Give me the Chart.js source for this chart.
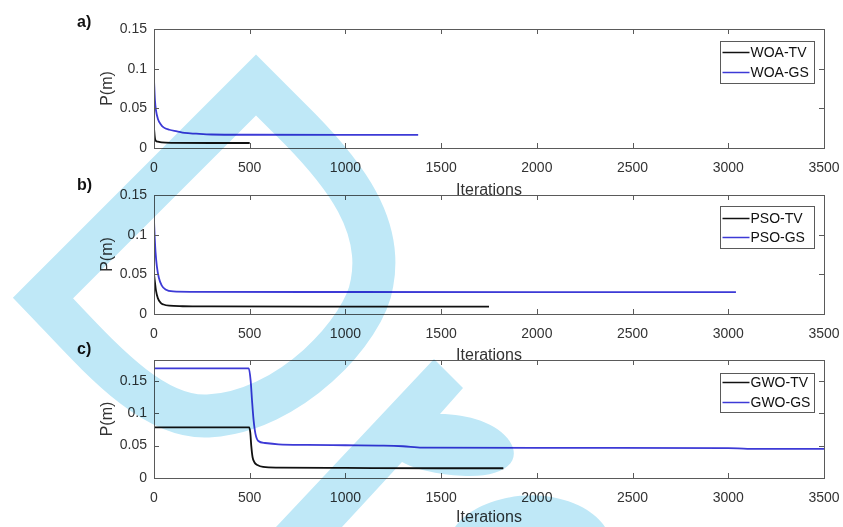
<!DOCTYPE html>
<html>
<head>
<meta charset="utf-8">
<script src="https://cdn.jsdelivr.net/npm/chart.js@4.4.1/dist/chart.umd.min.js"></script>
<style>
  body { margin: 0; background: #fff; }
  #wrap { position: relative; width: 843px; height: 527px; overflow: hidden; background: #fff; }
  #wrap canvas { position: absolute; left: 0; }
  .tag { position: absolute; left: 77px; font: bold 16px "Liberation Sans", Arial, sans-serif; line-height: 16px; color: #111; }
  #mark { position: absolute; left: 0; top: 0; mix-blend-mode: multiply; pointer-events: none; }
</style>
</head>
<body>
<div id="wrap">
  <canvas id="panelA" width="843" height="200" style="top:0px"></canvas>
  <canvas id="panelB" width="843" height="199" style="top:166px"></canvas>
  <canvas id="panelC" width="843" height="196" style="top:331px"></canvas>
  <div class="tag" style="top:14px">a)</div>
  <div class="tag" style="top:177px">b)</div>
  <div class="tag" style="top:341px">c)</div>
  <!-- watermark over the figure -->
  <svg id="mark" width="843" height="527">
    <path d="M 43 298 L 256 85 L 300 129 C 345 175, 383 225, 372 283 C 365 330, 290 412, 208 416 C 150 419, 95 352, 43 298 Z"
          fill="none" stroke="#bfe8f7" stroke-width="43" stroke-linejoin="miter"/>
    <path d="M 434 359 L 463 388 L 440 414 C 470 414, 505 425, 513 448 C 518 465, 500 476, 470 476 C 450 476, 420 472, 402 462 L 342 527 L 276 527 Z" fill="#bfe8f7"/>
    <path d="M 455 527 C 470 505, 510 492, 545 496 C 575 500, 595 512, 605 527 Z" fill="#bfe8f7"/>
  </svg>
</div>
<script>
// x ticks shared by the three panels
const iterTicks = [0, 500, 1000, 1500, 2000, 2500, 3000, 3500];
const pTicks = [0, 0.05, 0.1, 0.15];

// a) WOA
const woaTvIter = [0, 5, 10, 20, 40, 100, 300, 500];
const woaTvP    = [0.025, 0.012, 0.009, 0.008, 0.007, 0.0065, 0.0063, 0.0063];
const woaGsIter = [0, 5, 10, 20, 35, 50, 80, 120, 160, 220, 300, 500, 1000, 1380];
const woaGsP    = [0.086, 0.06, 0.048, 0.037, 0.03, 0.026, 0.023, 0.021, 0.019, 0.018, 0.017, 0.0167, 0.0165, 0.0165];

// b) PSO
const psoTvIter = [0, 5, 10, 20, 35, 50, 80, 150, 300, 1000, 1750];
const psoTvP    = [0.05, 0.04, 0.03, 0.02, 0.014, 0.012, 0.0105, 0.0098, 0.0095, 0.0093, 0.0092];
const psoGsIter = [0, 4, 8, 15, 25, 40, 60, 100, 200, 1000, 2000, 3040];
const psoGsP    = [0.118, 0.095, 0.078, 0.06, 0.046, 0.036, 0.031, 0.0285, 0.028, 0.0277, 0.0275, 0.0275];

// c) GWO
const gwoTvIter = [0, 497, 503, 508, 515, 525, 540, 570, 650, 1000, 1500, 1825];
const gwoTvP    = [0.078, 0.078, 0.07, 0.05, 0.032, 0.024, 0.02, 0.017, 0.016, 0.0155, 0.015, 0.015];
const gwoGsIter = [0, 495, 505, 512, 520, 530, 545, 580, 650, 800, 1000, 1200, 1300, 1400, 2000, 3000, 3100, 3500];
const gwoGsP    = [0.169, 0.169, 0.15, 0.12, 0.09, 0.068, 0.057, 0.054, 0.052, 0.051, 0.0505, 0.05, 0.049, 0.047, 0.0465, 0.0462, 0.045, 0.0448];

const BLACK = '#111111';
const BLUE = '#3d3ad6';
const AXIS = '#5a5a5a';
const TXT = '#333333';
const TICK = 5;

Chart.defaults.font.family = '"Liberation Sans", Arial, sans-serif';

// box around the plot, ticks pointing inward on all four sides
const frame = {
  id: 'frame',
  afterDraw(chart) {
    const { ctx, chartArea: a, scales: { x, y } } = chart;
    ctx.save();
    ctx.strokeStyle = AXIS;
    ctx.lineWidth = 1;
    ctx.strokeRect(Math.round(a.left) + 0.5, Math.round(a.top) + 0.5, Math.round(a.width), Math.round(a.height));
    ctx.beginPath();
    x.ticks.forEach(t => {
      const px = Math.round(x.getPixelForValue(t.value)) + 0.5;
      ctx.moveTo(px, a.bottom); ctx.lineTo(px, a.bottom - TICK);
      ctx.moveTo(px, a.top); ctx.lineTo(px, a.top + TICK);
    });
    y.ticks.forEach(t => {
      const py = Math.round(y.getPixelForValue(t.value)) + 0.5;
      ctx.moveTo(a.left, py); ctx.lineTo(a.left + TICK, py);
      ctx.moveTo(a.right, py); ctx.lineTo(a.right - TICK, py);
    });
    ctx.stroke();
    ctx.restore();
  }
};

// legend box in the upper right of the plot
const boxLegend = {
  id: 'boxLegend',
  afterDraw(chart, args, opts) {
    const { ctx, chartArea: a } = chart;
    const w = 94, h = opts.h;
    const left = Math.round(a.right - 10 - w) + 0.5;
    const top = Math.round(a.top + opts.dy) + 0.5;
    ctx.save();
    ctx.fillStyle = '#fff';
    ctx.fillRect(left, top, w, h);
    ctx.strokeStyle = AXIS;
    ctx.lineWidth = 1;
    ctx.strokeRect(left, top, w, h);
    ctx.font = '14px "Liberation Sans", Arial, sans-serif';
    ctx.textBaseline = 'middle';
    chart.data.datasets.forEach((ds, i) => {
      const cy = top + opts.rows[i];
      ctx.strokeStyle = ds.borderColor;
      ctx.lineWidth = 1.5;
      ctx.beginPath();
      ctx.moveTo(left + 2, cy); ctx.lineTo(left + 29, cy);
      ctx.stroke();
      ctx.fillStyle = '#111';
      ctx.fillText(ds.label, left + 30, cy + 1);
    });
    ctx.restore();
  }
};

function series(label, iter, p, color) {
  return {
    label,
    data: iter.map((x, i) => ({ x, y: p[i] })),
    borderColor: color,
    borderWidth: 1.8,
    pointRadius: 0,
    cubicInterpolationMode: 'monotone',
    fill: false
  };
}

function makePanel(id, cfg) {
  new Chart(document.getElementById(id), {
    type: 'line',
    data: { datasets: cfg.datasets },
    options: {
      responsive: false,
      animation: false,
      devicePixelRatio: 1,
      layout: { padding: { left: 96, right: 19, top: 29, bottom: 0 } },
      plugins: {
        legend: { display: false },
        tooltip: { enabled: false },
        boxLegend: cfg.legend
      },
      scales: {
        x: {
          type: 'linear', min: 0, max: 3500,
          afterBuildTicks: s => { s.ticks = iterTicks.map(v => ({ value: v })); },
          afterFit: s => {
            s.height = cfg.height - cfg.plotBottom;
            s.paddingLeft = 0; s.paddingRight = 0;
          },
          grid: { display: false, drawTicks: false },
          border: { display: false },
          ticks: { padding: 12, color: TXT, autoSkip: false, maxRotation: 0, font: { size: 14 }, callback: v => String(v) },
          title: { display: true, text: 'Iterations', color: TXT, font: { size: 16 }, padding: { top: 0, bottom: 0 } }
        },
        y: {
          type: 'linear', min: 0, max: cfg.yMax,
          afterBuildTicks: s => { s.ticks = pTicks.map(v => ({ value: v })); },
          afterFit: s => {
            s.width = 58;
            s.paddingTop = 0; s.paddingBottom = 0;
          },
          grid: { display: false, drawTicks: false },
          border: { display: false },
          ticks: { padding: 7, color: TXT, font: { size: 14 }, callback: v => String(v) },
          title: { display: true, text: 'P(m)', color: TXT, font: { size: 16 }, padding: { top: 2, bottom: 0 } }
        }
      }
    },
    plugins: [frame, boxLegend]
  });
}

makePanel('panelA', {
  height: 200, plotBottom: 148, yMax: 0.15,
  legend: { dy: 12, h: 42, rows: [11, 31] },
  datasets: [series('WOA-TV', woaTvIter, woaTvP, BLACK), series('WOA-GS', woaGsIter, woaGsP, BLUE)]
});
makePanel('panelB', {
  height: 199, plotBottom: 148, yMax: 0.15,
  legend: { dy: 11, h: 42, rows: [12, 31] },
  datasets: [series('PSO-TV', psoTvIter, psoTvP, BLACK), series('PSO-GS', psoGsIter, psoGsP, BLUE)]
});
makePanel('panelC', {
  height: 196, plotBottom: 147, yMax: 0.182,
  legend: { dy: 13, h: 39, rows: [9, 29] },
  datasets: [series('GWO-TV', gwoTvIter, gwoTvP, BLACK), series('GWO-GS', gwoGsIter, gwoGsP, BLUE)]
});
</script>
</body>
</html>
